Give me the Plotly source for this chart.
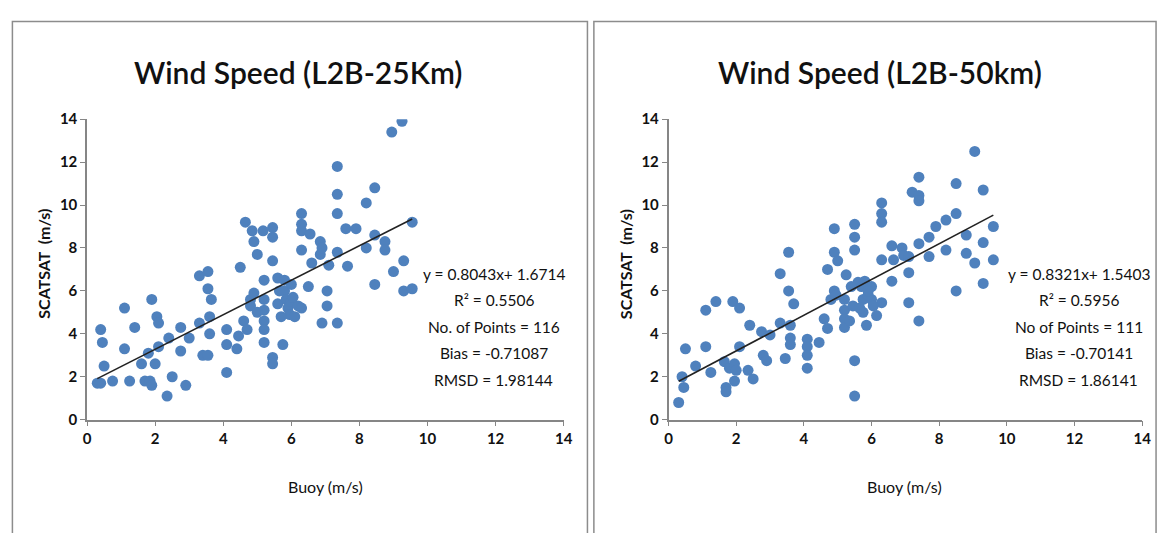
import plotly.graph_objects as go
import numpy as np

# ---------------- data ----------------
x_25 = [0.3, 0.4, 0.4, 0.45, 0.5, 0.75, 1.1, 1.1, 1.25, 1.4, 1.6, 1.7, 1.8, 1.85, 1.9, 1.9, 2.0, 2.05, 2.1, 2.1,
        2.35, 2.4, 2.5, 2.75, 2.75, 2.9, 3.0, 3.3, 3.3, 3.4, 3.55, 3.55, 3.55, 3.65, 3.6, 3.6, 4.1, 4.1, 4.1, 4.45,
        4.4, 4.5, 4.6, 4.7, 4.65, 4.85, 4.9, 5.0, 5.17, 4.8, 4.8, 4.9, 5.2, 5.2, 5.2, 5.2, 5.2, 5.2, 5.45, 5.45,
        5.45, 5.45, 5.45, 5.6, 5.6, 5.8, 5.8, 5.85, 5.9, 5.95, 5.7, 5.75, 6.0, 6.0, 6.1, 6.2, 6.3, 6.3, 6.3, 6.3,
        6.3, 6.5, 6.55, 6.6, 6.85, 6.85, 6.9, 6.9, 7.05, 7.05, 7.1, 7.35, 7.35, 7.35, 7.35, 7.35, 7.6, 7.65, 7.9, 8.2,
        8.2, 8.45, 8.45, 8.45, 8.75, 8.75, 8.95, 9.0, 9.25, 9.3, 9.3, 9.55, 9.55, 5.0, 5.65, 6.05]
y_25 = [1.7, 1.7, 4.2, 3.6, 2.5, 1.8, 5.2, 3.3, 1.8, 4.3, 2.6, 1.8, 3.1, 1.8, 1.6, 5.6, 2.6, 4.8, 4.5, 3.4,
        1.1, 3.8, 2.0, 4.3, 3.2, 1.6, 3.8, 6.7, 4.5, 3.0, 3.0, 6.9, 6.1, 5.6, 4.8, 4.0, 4.2, 3.5, 2.2, 3.9,
        3.3, 7.1, 4.6, 4.2, 9.2, 8.8, 8.3, 7.7, 8.8, 5.6, 5.3, 5.9, 6.5, 5.6, 5.1, 4.6, 4.2, 3.6, 8.95, 8.5,
        7.4, 2.9, 2.6, 6.6, 5.4, 6.5, 6.0, 5.6, 5.2, 4.9, 4.8, 3.5, 6.3, 5.5, 4.8, 5.3, 5.2, 9.6, 9.1, 8.8,
        7.9, 6.2, 8.65, 7.3, 8.3, 7.7, 8.0, 4.5, 6.0, 5.3, 7.2, 11.8, 10.5, 9.6, 7.8, 4.5, 8.9, 7.15, 8.9, 10.1,
        8.0, 10.8, 8.6, 6.3, 8.3, 7.9, 13.4, 6.9, 13.9, 7.4, 6.0, 9.2, 6.1, 5.0, 6.0, 5.7]

x_50 = [0.3, 0.4, 0.45, 0.5, 0.8, 1.1, 1.1, 1.25, 1.4, 1.65, 1.7, 1.7, 1.8, 1.9, 1.95, 1.95, 2.0, 2.1, 2.1, 2.35,
        2.4, 2.5, 2.75, 2.8, 2.9, 3.0, 3.3, 3.3, 3.45, 3.55, 3.55, 3.7, 3.6, 3.6, 3.6, 4.1, 4.1, 4.1, 4.1, 4.45,
        4.6, 4.7, 4.7, 4.9, 4.9, 5.0, 4.8, 4.9, 5.25, 5.2, 5.2, 5.2, 5.2, 5.5, 5.5, 5.5, 5.5, 5.5, 5.6, 5.7,
        5.75, 5.75, 5.8, 5.85, 6.0, 6.0, 6.15, 6.3, 6.3, 6.3, 6.3, 6.3, 6.6, 6.6, 6.65, 6.9, 6.95, 7.1, 7.1, 7.1,
        7.2, 7.4, 7.4, 7.4, 7.4, 7.4, 7.7, 7.7, 7.9, 8.2, 8.2, 8.5, 8.5, 8.5, 8.8, 8.8, 9.05, 9.05, 9.3, 9.3,
        9.3, 9.6, 9.6, 5.4, 5.45, 5.65, 5.9, 6.05, 5.9, 4.95, 5.35]
y_50 = [0.8, 2.0, 1.5, 3.3, 2.5, 5.1, 3.4, 2.2, 5.5, 2.7, 1.5, 1.3, 2.4, 5.5, 2.6, 1.8, 2.3, 5.2, 3.4, 2.3,
        4.4, 1.9, 4.1, 3.0, 2.75, 3.95, 6.8, 4.5, 2.85, 7.8, 6.0, 5.4, 4.4, 3.8, 3.5, 3.75, 3.4, 3.0, 2.4, 3.6,
        4.7, 4.25, 7.0, 8.9, 7.8, 7.4, 5.6, 6.0, 6.75, 5.6, 5.1, 4.7, 4.3, 9.1, 8.5, 7.9, 2.75, 1.1, 6.4, 6.2,
        5.6, 5.0, 6.45, 4.4, 6.2, 5.6, 4.85, 5.45, 7.45, 10.1, 9.6, 9.2, 8.1, 6.45, 7.45, 8.0, 7.65, 7.6, 6.85, 5.45,
        10.6, 10.45, 11.3, 10.2, 8.2, 4.6, 8.5, 7.6, 9.0, 9.3, 7.9, 11.0, 9.6, 6.0, 8.6, 7.75, 12.5, 7.3, 10.7, 8.25,
        6.35, 9.0, 7.45, 6.2, 5.3, 5.2, 5.8, 5.3, 6.0, 5.8, 4.6]

fit_25 = (0.8043, 1.6714)
fit_50 = (0.8321, 1.5403)

titles = ["Wind Speed (L2B-25Km)", "Wind Speed (L2B-50km)"]
stats_25 = ["y = 0.8043x+ 1.6714", "R² = 0.5506", "No. of Points = 116", "Bias = -0.71087", "RMSD = 1.98144"]
stats_50 = ["y = 0.8321x+ 1.5403", "R² = 0.5956", "No of Points = 111", "Bias = -0.70141", "RMSD = 1.86141"]
x_title = "Buoy (m/s)"
y_title = "SCATSAT  (m/s)"
tick_vals = [0, 2, 4, 6, 8, 10, 12, 14]

# ---------------- figure ----------------
W, H = 1170, 533
FONT = "Lato, Roboto, sans-serif"
BLUE = "#4F81BD"
AXC = "#868686"
TXT = "#111111"

def px(x):
    return x / W

def py(y):
    return 1 - y / H

fig = go.Figure()

for i, (xs, ys, fit) in enumerate([(x_25, y_25, fit_25), (x_50, y_50, fit_50)]):
    xa = "x" if i == 0 else "x2"
    ya = "y" if i == 0 else "y2"
    fig.add_trace(go.Scatter(x=xs, y=ys, mode="markers", xaxis=xa, yaxis=ya,
                             marker=dict(size=11, color=BLUE, line=dict(width=0)),
                             showlegend=False, hoverinfo="x+y"))
    lx = np.array([min(xs), max(xs)])
    fig.add_trace(go.Scatter(x=lx, y=fit[0] * lx + fit[1], mode="lines", xaxis=xa, yaxis=ya,
                             line=dict(color="#222222", width=1.6), showlegend=False, hoverinfo="skip"))

axis_common = dict(range=[0, 14], tickvals=tick_vals, showline=True, linecolor=AXC, linewidth=1.5,
                   ticks="outside", ticklen=5, tickcolor=AXC, tickwidth=1.2, showgrid=False,
                   zeroline=False, tickfont=dict(family=FONT, size=15, color=TXT, weight="bold"))

y_dom = [py(424), py(113)]
fig.update_layout(
    width=W, height=H, margin=dict(l=0, r=0, t=0, b=0),
    paper_bgcolor="white", plot_bgcolor="white",
    xaxis=dict(domain=[px(84), px(566)], anchor="y", **axis_common),
    yaxis=dict(domain=y_dom, anchor="x", **axis_common),
    xaxis2=dict(domain=[px(672), px(1151)], anchor="y2", **axis_common),
    yaxis2=dict(domain=y_dom, anchor="x2", **axis_common),
)

# panel borders
fig.add_shape(type="rect", xref="paper", yref="paper", x0=px(8.5), x1=px(590), y0=py(545), y1=py(12),
              line=dict(color="#8c8c8c", width=1.5), fillcolor="rgba(0,0,0,0)", layer="below")
fig.add_shape(type="rect", xref="paper", yref="paper", x0=px(596.5), x1=px(1165), y0=py(545), y1=py(12),
              line=dict(color="#8c8c8c", width=1.5), fillcolor="rgba(0,0,0,0)", layer="below")

ann = []
for title, cx in zip(titles, [297, 886]):
    ann.append(dict(text=title, x=px(cx), y=py(64), xref="paper", yref="paper", showarrow=False,
                    xanchor="center", yanchor="middle", font=dict(family=FONT, size=30, color=TXT, weight=600)))
for cx in [325, 911]:
    ann.append(dict(text=x_title, x=px(cx), y=py(493), xref="paper", yref="paper", showarrow=False,
                    xanchor="center", yanchor="middle", font=dict(family=FONT, size=16, color=TXT)))
for cx in [40, 628]:
    ann.append(dict(text="<b>" + y_title + "</b>", x=px(cx), y=py(263), xref="paper", yref="paper",
                    showarrow=False, textangle=-90, xanchor="center", yanchor="middle",
                    font=dict(family=FONT, size=16, color=TXT)))
line_y = [273, 300, 328, 355, 383]
for stats, cx in [(stats_25, 495), (stats_50, 1087)]:
    for s, yy in zip(stats, line_y):
        ann.append(dict(text=s, x=px(cx), y=py(yy), xref="paper", yref="paper", showarrow=False,
                        xanchor="center", yanchor="middle", font=dict(family=FONT, size=15.5, color=TXT)))
fig.update_layout(annotations=ann)

fig.write_html("out.html", config={"displayModeBar": False},
               post_script="document.body.style.margin='0px';")
